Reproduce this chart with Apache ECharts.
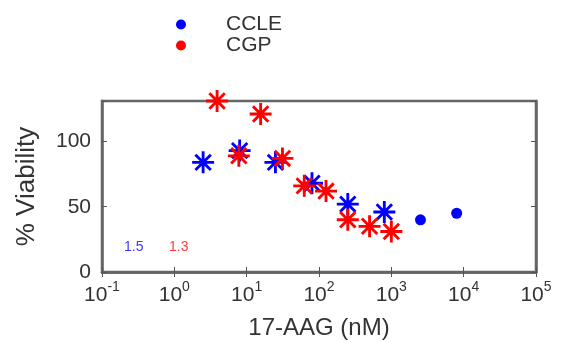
<!DOCTYPE html>
<html>
<head>
<meta charset="utf-8">
<script src="https://cdn.jsdelivr.net/npm/echarts@6/dist/echarts.min.js"></script>
<style>
html,body{margin:0;padding:0;background:#fff;}
#c{width:561px;height:342px;}
</style>
</head>
<body>
<div id="c"></div>
<script>
// ---- data ----
var ccleConc = [2.5, 8, 25, 80, 250, 800, 2530, 8000];
var ccleVia  = [84, 93, 84, 68, 52, 46, 40, 45];
var ccleMarker = ['star','star','star','star','star','star','dot','dot'];
var cgpConc = [3.9, 7.8, 15.6, 31.25, 62.5, 125, 250, 500, 1000];
var cgpVia  = [131, 89, 121, 87, 66, 62, 40, 35, 31];
var seriesNames = ['CCLE', 'CGP'];
var seriesColors = ['#0000ff', '#ff0000'];
var annotValues = ['1.5', '1.3'];
var xTickExp = [-1, 0, 1, 2, 3, 4, 5];
var yTicks = [0, 50, 100];
var xTitle = '17-AAG (nM)';
var yTitle = '% Viability';

var STAR = 'path://M0 43.5L100 43.5L100 56.5L0 56.5Z M43.5 0L56.5 0L56.5 100L43.5 100Z M19.6 10.4L89.6 80.4L80.4 89.6L10.4 19.6Z M80.4 10.4L89.6 19.6L19.6 89.6L10.4 80.4Z';

function mk(conc, via, markers) {
  return conc.map(function (c, i) {
    var m = markers ? markers[i] : 'star';
    return {
      value: [c, via[i]],
      symbol: m === 'star' ? STAR : 'circle',
      symbolSize: m === 'star' ? 22 : 11
    };
  });
}

var FONT = 'Liberation Sans, Arial, sans-serif';
var chart = echarts.init(document.getElementById('c'), null, {renderer: 'canvas'});
chart.setOption({
  animation: false,
  textStyle: {fontFamily: FONT},
  legend: {
    orient: 'vertical',
    left: 171, top: 9,
    itemWidth: 10, itemHeight: 10,
    itemGap: 0,
    icon: 'circle',
    data: seriesNames,
    textStyle: {fontSize: 21, color: '#333', padding: [0, 0, 0, 35], lineHeight: 20, fontFamily: FONT}
  },
  grid: {left: 102, right: 25, top: 101, bottom: 70, show: true, borderColor: '#666', borderWidth: 2.5, backgroundColor: '#fff'},
  xAxis: [{
    type: 'log', logBase: 10,
    min: Math.pow(10, xTickExp[0]), max: Math.pow(10, xTickExp[xTickExp.length - 1]),
    splitNumber: xTickExp.length - 1,
    name: xTitle, nameLocation: 'middle', nameGap: 44,
    nameTextStyle: {fontSize: 24, color: '#333', fontFamily: FONT},
    axisLine: {show: true, lineStyle: {color: '#666', width: 2.5}},
    axisTick: {show: true, inside: true, length: 5, lineStyle: {color: '#555'}},
    splitLine: {show: false},
    axisLabel: {
      margin: 8,
      formatter: function (v) {
        var e = Math.round(Math.log10(v));
        return '{b|10}{s|' + e + '}';
      },
      rich: {
        b: {fontSize: 21, color: '#333', fontFamily: FONT, verticalAlign: 'bottom', lineHeight: 26},
        s: {fontSize: 14, color: '#333', fontFamily: FONT, verticalAlign: 'top', lineHeight: 14}
      }
    }
  }, {
    type: 'log', logBase: 10, position: 'top',
    min: Math.pow(10, xTickExp[0]), max: Math.pow(10, xTickExp[xTickExp.length - 1]),
    splitNumber: xTickExp.length - 1,
    axisLine: {show: true, lineStyle: {color: '#666', width: 2.5}},
    axisTick: {show: true, inside: true, length: 5, lineStyle: {color: '#555'}},
    axisLabel: {show: false}, splitLine: {show: false}
  }],
  yAxis: [{
    type: 'value', min: 0, max: Math.max.apply(null, cgpVia), interval: 50,
    name: yTitle, nameLocation: 'middle', nameGap: 62,
    nameTextStyle: {fontSize: 26, color: '#333', fontFamily: FONT},
    axisLine: {show: true, lineStyle: {color: '#666', width: 2.5}},
    axisTick: {show: true, inside: true, length: 5, lineStyle: {color: '#555'}},
    splitLine: {show: false},
    axisLabel: {
      fontSize: 21, color: '#333', margin: 11,
      formatter: function (v) { return yTicks.indexOf(v) >= 0 ? String(v) : ''; }
    }
  }, {
    type: 'value', min: 0, max: Math.max.apply(null, cgpVia), interval: 50, position: 'right',
    axisLine: {show: true, lineStyle: {color: '#666', width: 2.5}},
    axisTick: {show: true, inside: true, length: 5, lineStyle: {color: '#555'}},
    axisLabel: {show: false}, splitLine: {show: false}
  }],
  graphic: [
    {type: 'text', left: 124, top: 240, style: {text: annotValues[0], fill: '#3a3aff', font: '14px ' + FONT}},
    {type: 'text', left: 169, top: 240, style: {text: annotValues[1], fill: '#ff3a3a', font: '14px ' + FONT}}
  ],
  series: [{
    name: seriesNames[0], type: 'scatter',
    itemStyle: {color: seriesColors[0], opacity: 1},
    data: mk(ccleConc, ccleVia, ccleMarker)
  }, {
    name: seriesNames[1], type: 'scatter',
    itemStyle: {color: seriesColors[1], opacity: 1},
    data: mk(cgpConc, cgpVia, null)
  }]
});
</script>
</body>
</html>
